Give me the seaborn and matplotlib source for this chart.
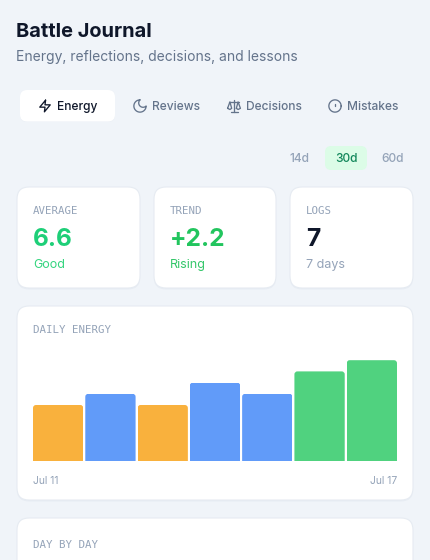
import numpy as np
import matplotlib
matplotlib.use("Agg")
import matplotlib.pyplot as plt
from matplotlib.patches import FancyBboxPatch
from matplotlib.transforms import IdentityTransform
import seaborn as sns

days = ["Jul 11", "Jul 12", "Jul 13", "Jul 14", "Jul 15", "Jul 16", "Jul 17"]
energy = [5, 6, 5, 7, 6, 8, 9]
levels = ["low", "mid", "low", "mid", "mid", "high", "high"]
level_colors = {"low": "#f9b13d", "mid": "#619bf9", "high": "#50d27f"}

tabs = ["Energy", "Reviews", "Decisions", "Mistakes"]
ranges = ["14d", "30d", "60d"]
stat_labels = ["AVERAGE", "TREND", "LOGS"]
stat_values = ["6.6", "+2.2", "7"]
stat_notes = ["Good", "Rising", "7 days"]

BG = "#f0f4f9"
DARK = "#0f172a"
SLATE = "#64748b"
MUTED = "#94a3b8"
BORDER = "#e6ebf2"
MONO = "DejaVu Sans Mono"

sns.set_theme(style="white")
plt.rcParams["font.family"] = ["Inter", "DejaVu Sans"]

fig = plt.figure(figsize=(4.3, 5.6), dpi=100, facecolor=BG)
bg = fig.add_axes([0, 0, 1, 1])
bg.set_xlim(0, 430)
bg.set_ylim(560, 0)
bg.axis("off")


def px(size):
    return size * 0.72


def label(x, y, s, size, color, **kw):
    bg.text(x, y, s, fontsize=px(size), color=color, va="baseline", **kw)


def box(x0, y0, x1, y1, r, color, edge="none", lw=0, z=1):
    bg.add_patch(FancyBboxPatch((x0, y0), x1 - x0, y1 - y0,
                                boxstyle=f"round,pad=0,rounding_size={r}",
                                fc=color, ec=edge, lw=lw, zorder=z))


def card(x0, y0, x1, y1):
    # soft shadow under the card
    box(x0, y0 + 1.5, x1, y1 + 1.5, 12, "#e8edf4", z=1)
    box(x0, y0, x1, y1, 12, "white", BORDER, 0.8, z=2)


def icon(points, ox, oy, color, scale=14 / 24, closed=False):
    pts = np.array(points, dtype=float)
    if closed:
        pts = np.vstack([pts, pts[:1]])
    bg.plot(ox + pts[:, 0] * scale, oy + pts[:, 1] * scale, color=color, lw=0.95,
            solid_joinstyle="round", solid_capstyle="round", zorder=5)


# header
label(16, 37, "Battle Journal", 20, DARK, fontweight="bold")
label(16, 61, "Energy, reflections, decisions, and lessons", 13.9, SLATE)

# tabs
box(20, 90, 115, 122, 7, "#e9eef5", z=1)
box(20, 90, 115, 121.5, 7, "white", z=2)
tab_x = [57, 152, 246, 347]
for name, x in zip(tabs, tab_x):
    label(x, 110, name, 12, DARK if name == "Energy" else SLATE, fontweight="medium", zorder=5)

# lightning
icon([(13, 2), (3, 14), (12, 14), (11, 22), (21, 10), (12, 10)], 38, 99, DARK, closed=True)

# moon
t_out = np.radians(np.linspace(-90, -360, 40))
t_in = np.radians(np.linspace(45, 225, 24))
moon = np.vstack([np.c_[12 + 10.5 * np.cos(t_out), 12 + 10.5 * np.sin(t_out)],
                  np.c_[17.2 + 7.4 * np.cos(t_in), 6.8 + 7.4 * np.sin(t_in)]])
icon(moon, 133, 99, SLATE)

# scales
for seg in ([(12, 1), (12, 22)], [(6, 22), (18, 22)], [(4, 5), (20, 5)],
            [(16, 16), (19, 5), (23, 16), (19, 18), (16, 16)],
            [(1, 16), (5, 5), (8, 16), (5, 18), (1, 16)]):
    icon(seg, 227, 99, SLATE)

# alert circle
t = np.radians(np.linspace(0, 360, 60))
icon(np.c_[12 + 10.5 * np.cos(t), 12 + 10.5 * np.sin(t)], 328, 99, SLATE)
icon([(12, 8), (12, 12)], 328, 99, SLATE)

# range selector
box(325, 146, 367, 170, 6, "#dcfce7", z=2)
for name, x in zip(ranges, [290, 335, 381]):
    label(x, 162, name, 12, "#12875a" if name == "30d" else MUTED, fontweight="medium", zorder=5)

# stat cards
card_x = [(17, 140), (154, 276), (290, 413)]
value_colors = ["#1ecf78", "#22c55e", DARK]
note_colors = ["#34d57f", "#34c76a", MUTED]
for (x0, x1), name, val, note, vc, nc in zip(card_x, stat_labels, stat_values, stat_notes,
                                             value_colors, note_colors):
    card(x0, 187, x1, 288)
    label(x0 + 16, 214, name, 10.8, MUTED, family=MONO, zorder=5)
    label(x0 + 16, 246, val, 24.5, vc, fontweight="bold", zorder=5)
    label(x0 + 16, 268, note, 12.5, nc, zorder=5)

# chart card
card(17, 306, 413, 500)
label(33, 333, "DAILY ENERGY", 10.8, MUTED, family=MONO, zorder=5)
card(17, 518, 413, 600)
label(33, 548, "DAY BY DAY", 10.8, MUTED, family=MONO, zorder=5)

# daily energy bars
ax = fig.add_axes([33 / 430, (560 - 461) / 560, 364 / 430, 112 / 560], zorder=3)
ax.patch.set_alpha(0)
sns.barplot(x=days, y=energy, hue=levels, palette=level_colors, dodge=False, width=0.962,
            saturation=1, legend=False, ax=ax)
ax.set_xlim(-0.481, 6.481)
ax.set_ylim(0, 10)
ax.axis("off")

# round the top corners of the bars
for bar in ax.patches:
    b = bar.get_bbox().transformed(ax.transData)
    clip = FancyBboxPatch((b.x0, b.y0 - 10), b.width, b.height + 10,
                          boxstyle="round,pad=0,rounding_size=3", transform=IdentityTransform())
    bar.set_clip_path(clip)
    bar.set_linewidth(0)

ax.text(0, -15 / 112, days[0], transform=ax.transAxes, ha="left", va="top",
        fontsize=px(10.3), color=MUTED)
ax.text(1, -15 / 112, days[-1], transform=ax.transAxes, ha="right", va="top",
        fontsize=px(10.3), color=MUTED)

fig.savefig("out.png", dpi=100, facecolor=BG)
